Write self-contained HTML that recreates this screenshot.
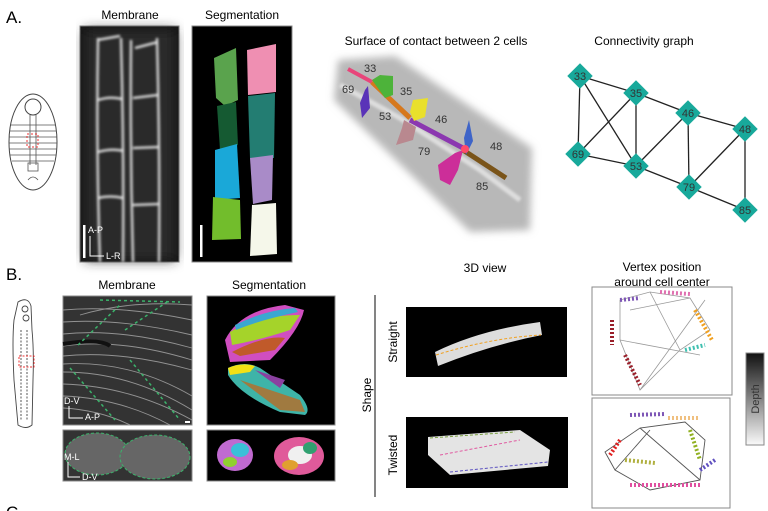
<!DOCTYPE html>
<html><head><meta charset="utf-8"><style>
html,body{margin:0;padding:0;background:#fff;}
svg{display:block;font-family:"Liberation Sans",sans-serif;}
</style></head><body>
<svg width="768" height="511" viewBox="0 0 768 511" xmlns="http://www.w3.org/2000/svg">
<defs>
<linearGradient id="dep" x1="0" y1="0" x2="0" y2="1"><stop offset="0" stop-color="#111"/><stop offset="1" stop-color="#fafafa"/></linearGradient>
<filter id="bl"><feGaussianBlur stdDeviation="6"/></filter>
<filter id="bl4"><feGaussianBlur stdDeviation="4"/></filter>
<filter id="bl1"><feGaussianBlur stdDeviation="1.2"/></filter>
</defs>
<!-- A -->
<text x="6" y="23" font-size="17">A.</text>
<text x="130" y="19" font-size="12" text-anchor="middle">Membrane</text>
<text x="242" y="19" font-size="12" text-anchor="middle">Segmentation</text>
<ellipse cx="33" cy="142" rx="24" ry="48" fill="#fff" stroke="#444"/>
<circle cx="33" cy="107" r="8" fill="none" stroke="#444"/>
<g stroke="#555" stroke-width="0.8" fill="none">
<path d="M11 125 H55 M10 131 H56 M9 137 H57 M9 143 H57 M9 149 H57 M10 155 H56 M12 161 H54"/>
<path d="M30 115 V165 M36 115 V165"/>
<rect x="28" y="163" width="10" height="8"/>
<path d="M28 180 q5 -6 10 0"/>
</g>
<rect x="27" y="134" width="11" height="13" fill="none" stroke="#e33" stroke-dasharray="2,2"/>
<rect x="80" y="26" width="99" height="236" fill="#151515" stroke="#888"/>
<g fill="#2a2a2a" filter="url(#bl)"><rect x="85" y="30" width="90" height="230"/></g>
<g stroke="#e8e8e8" stroke-width="2.2" fill="none" filter="url(#bl1)">
<path d="M98 38 Q96 150 100 262 M121 38 Q124 150 123 262 M131 40 Q130 150 133 262 M157 38 Q160 150 159 262"/>
<path d="M98 100 Q110 96 122 99 M98 152 Q112 148 124 151 M98 198 Q110 195 123 198 M133 98 L158 95 M133 148 L160 147 M133 205 L160 204 M97 40 L120 36 M135 48 L158 42"/>
</g>
<rect x="83" y="225" width="2.5" height="33" fill="#fff"/>
<text x="88" y="233" font-size="9" fill="#fff">A-P</text>
<path d="M90 236 V256 H104" stroke="#fff" fill="none"/>
<text x="106" y="259" font-size="9" fill="#fff">L-R</text>
<rect x="192" y="26" width="100" height="236" fill="#000" stroke="#888"/>
<path d="M214 58 L236 48 L238 100 L225 106 L216 98 Z" fill="#5aa34d"/>
<path d="M217 106 L236 102 L238 145 L220 150 Z" fill="#155a32"/>
<path d="M215 150 L237 144 L240 198 L215 200 Z" fill="#1aa8d8"/>
<path d="M213 197 L240 200 L241 239 L212 240 Z" fill="#72bd2c"/>
<path d="M247 50 L276 44 L276 92 L248 95 Z" fill="#ef8fb2"/>
<path d="M248 96 L275 93 L274 158 L250 158 Z" fill="#237d72"/>
<path d="M250 158 L273 155 L272 200 L253 204 Z" fill="#a98bc8"/>
<path d="M252 205 L276 203 L277 254 L250 256 Z" fill="#f5f7ea"/>
<rect x="200" y="225" width="2.5" height="32" fill="#fff"/>
<!-- surface of contact -->
<text x="436" y="45" font-size="12" text-anchor="middle">Surface of contact between 2 cells</text>
<g filter="url(#bl4)">
<path d="M338 60 L395 56 L532 148 L530 230 L470 232 L334 100 Z" fill="#b8b8b8"/>
</g>
<path d="M340 85 L400 118 L480 170 L520 200" stroke="#dedede" stroke-width="5" fill="none" filter="url(#bl1)"/>
<path d="M348 69 L372 82" stroke="#e8457a" stroke-width="4"/>
<path d="M372 82 L410 118" stroke="#d6781d" stroke-width="5"/>
<path d="M410 120 L463 148" stroke="#8b37b0" stroke-width="5"/>
<path d="M463 150 L506 178" stroke="#7a5419" stroke-width="5"/>
<path d="M372 80 L380 75 L393 76 L393 95 L385 98 Z" fill="#4db33a"/>
<path d="M368 86 L370 108 L362 118 L360 103 L365 90 Z" fill="#5a33b8"/>
<path d="M413 100 L428 98 L425 117 L414 121 L410 112 Z" fill="#e9e02c"/>
<path d="M404 120 L416 127 L413 140 L396 145 L402 128 Z" fill="#b9888f"/>
<path d="M469 120 L473 141 L466 155 L464 138 Z" fill="#3e64c8"/>
<path d="M455 153 L463 150 L458 170 L450 185 L440 180 L438 165 Z" fill="#cc2e99"/>
<circle cx="465" cy="149" r="4" fill="#ff4a6a"/>
<g font-size="11" fill="#333">
<text x="364" y="72">33</text><text x="342" y="93">69</text><text x="400" y="95">35</text>
<text x="379" y="120">53</text><text x="435" y="123">46</text><text x="418" y="155">79</text>
<text x="490" y="150">48</text><text x="476" y="190">85</text>
</g>
<!-- connectivity -->
<text x="644" y="45" font-size="12" text-anchor="middle">Connectivity graph</text>
<g stroke="#222" stroke-width="1.3">
<line x1="580" y1="76" x2="636" y2="93"/><line x1="580" y1="76" x2="578" y2="154"/><line x1="580" y1="76" x2="636" y2="166"/>
<line x1="636" y1="93" x2="578" y2="154"/><line x1="636" y1="93" x2="636" y2="166"/><line x1="636" y1="93" x2="688" y2="113"/>
<line x1="688" y1="113" x2="636" y2="166"/><line x1="688" y1="113" x2="745" y2="129"/><line x1="688" y1="113" x2="689" y2="187"/>
<line x1="578" y1="154" x2="636" y2="166"/><line x1="636" y1="166" x2="689" y2="187"/><line x1="745" y1="129" x2="689" y2="187"/>
<line x1="745" y1="129" x2="745" y2="210"/><line x1="689" y1="187" x2="745" y2="210"/>
</g>
<g fill="#18a99b" font-size="11" text-anchor="middle">
<g transform="translate(580,76)"><rect x="-9" y="-9" width="18" height="18" transform="rotate(45)"/><text y="4" fill="#333">33</text></g>
<g transform="translate(636,93)"><rect x="-9" y="-9" width="18" height="18" transform="rotate(45)"/><text y="4" fill="#333">35</text></g>
<g transform="translate(688,113)"><rect x="-9" y="-9" width="18" height="18" transform="rotate(45)"/><text y="4" fill="#333">46</text></g>
<g transform="translate(745,129)"><rect x="-9" y="-9" width="18" height="18" transform="rotate(45)"/><text y="4" fill="#333">48</text></g>
<g transform="translate(578,154)"><rect x="-9" y="-9" width="18" height="18" transform="rotate(45)"/><text y="4" fill="#333">69</text></g>
<g transform="translate(636,166)"><rect x="-9" y="-9" width="18" height="18" transform="rotate(45)"/><text y="4" fill="#333">53</text></g>
<g transform="translate(689,187)"><rect x="-9" y="-9" width="18" height="18" transform="rotate(45)"/><text y="4" fill="#333">79</text></g>
<g transform="translate(745,210)"><rect x="-9" y="-9" width="18" height="18" transform="rotate(45)"/><text y="4" fill="#333">85</text></g>
</g>
<!-- B -->
<text x="6" y="280" font-size="17">B.</text>
<text x="127" y="289" font-size="12" text-anchor="middle">Membrane</text>
<text x="269" y="289" font-size="12" text-anchor="middle">Segmentation</text>
<g stroke="#444" fill="#fff" stroke-width="0.9">
<path d="M18 302 Q28 296 31 306 L32 330 Q34 350 33 380 L32 425 Q26 430 18 425 L14 380 Q12 340 14 320 Z"/>
<circle cx="25" cy="309" r="3" fill="none"/><circle cx="26" cy="318" r="3" fill="none"/>
<path d="M21 330 V420 M27 330 V420" fill="none" stroke-dasharray="2,1.5"/>
</g>
<rect x="19" y="356" width="15" height="11" fill="none" stroke="#e33" stroke-dasharray="2,1.5"/>
<rect x="63" y="296" width="129" height="129" fill="#333" stroke="#888"/>
<g stroke="#aaa" stroke-width="0.9" fill="none" opacity="0.8">
<path d="M63 310 Q120 305 192 320 M63 322 Q120 318 192 335 M63 334 Q120 328 192 348 M63 346 Q120 338 192 360 M63 356 Q120 350 192 370"/>
<path d="M63 372 Q130 372 192 410 M63 384 Q130 386 192 420 M63 396 Q120 398 170 425 M63 408 Q100 410 130 425 M63 364 Q130 360 192 396 M80 315 Q130 300 192 305"/>
</g>
<path d="M63 344 Q100 338 110 346" stroke="#111" stroke-width="4" fill="none"/>
<g stroke="#3bb36b" stroke-width="1.5" stroke-dasharray="3,3" fill="none">
<path d="M78 345 L120 305 M125 330 L170 300 M70 368 L115 420 M130 360 L180 420 M100 300 L180 302"/>
</g>
<text x="64" y="404" font-size="9" fill="#fff">D-V</text>
<path d="M69 406 V418 H83" stroke="#fff" fill="none"/>
<text x="85" y="420" font-size="9" fill="#fff">A-P</text>
<rect x="185" y="421" width="5" height="2" fill="#fff"/>
<rect x="63" y="430" width="129" height="51" fill="#333" stroke="#888"/>
<ellipse cx="97" cy="454" rx="32" ry="21" fill="#666" stroke="#3bb36b" stroke-dasharray="3,2"/>
<ellipse cx="155" cy="457" rx="35" ry="22" fill="#666" stroke="#3bb36b" stroke-dasharray="3,2"/>
<text x="64" y="460" font-size="9" fill="#fff">M-L</text>
<path d="M68 462 V477 H80" stroke="#fff" fill="none"/>
<text x="82" y="480" font-size="9" fill="#fff">D-V</text>
<rect x="207" y="296" width="128" height="129" fill="#000" stroke="#888"/>
<path d="M225 340 Q240 310 285 305 L304 310 Q300 330 270 360 L230 362 Z" fill="#d04ec0"/>
<path d="M230 332 Q260 315 300 315 L290 330 Q260 340 232 345 Z" fill="#a5d32a"/>
<path d="M235 325 Q265 310 295 308 L298 312 Q260 320 236 330 Z" fill="#3aa7d0"/>
<path d="M232 352 Q265 335 285 338 L275 350 L240 356 Z" fill="#c05a2a"/>
<path d="M228 368 Q245 360 260 368 L300 395 Q312 410 305 415 L280 412 Q240 395 228 375 Z" fill="#3eb4a8"/>
<path d="M228 368 Q242 362 255 366 L250 372 L230 375 Z" fill="#f2e014"/>
<path d="M240 380 L300 400 L305 412 L280 410 Z" fill="#a07a40"/>
<path d="M255 370 L285 380 L280 388 Z" fill="#8a40a0"/>
<rect x="207" y="430" width="128" height="51" fill="#000" stroke="#888"/>
<ellipse cx="235" cy="455" rx="18" ry="16" fill="#c06ad0"/>
<ellipse cx="240" cy="450" rx="9" ry="7" fill="#3ac0d8"/><ellipse cx="230" cy="462" rx="7" ry="5" fill="#90d030"/>
<ellipse cx="299" cy="456" rx="25" ry="19" fill="#e05a9a"/>
<ellipse cx="300" cy="455" rx="12" ry="9" fill="#f0f0f0"/><ellipse cx="290" cy="465" rx="8" ry="5" fill="#e0a030"/><ellipse cx="310" cy="448" rx="7" ry="6" fill="#30a070"/>
<text transform="translate(371,395) rotate(-90)" font-size="12" text-anchor="middle">Shape</text>
<line x1="375" y1="295" x2="375" y2="497" stroke="#333" stroke-width="1.2"/>
<text transform="translate(397,342) rotate(-90)" font-size="12" text-anchor="middle">Straight</text>
<text transform="translate(397,455) rotate(-90)" font-size="12" text-anchor="middle">Twisted</text>
<text x="485" y="272" font-size="12" text-anchor="middle">3D view</text>
<rect x="406" y="307" width="161" height="70" fill="#000"/>
<path d="M435 352 Q480 330 540 322 L542 335 Q490 345 438 366 Z" fill="#ddd"/>
<path d="M436 355 Q490 338 541 335" stroke="#f0a020" stroke-dasharray="3,2" fill="none"/>
<rect x="406" y="417" width="162" height="71" fill="#000"/>
<path d="M428 437 L520 430 L550 450 L548 466 L450 475 L428 455 Z" fill="#e4e4e4"/>
<path d="M440 455 L520 440" stroke="#e05aa0" stroke-dasharray="3,2"/>
<path d="M450 472 L548 462" stroke="#5a50c0" stroke-dasharray="3,2"/>
<path d="M430 438 L515 432" stroke="#7aa040" stroke-dasharray="3,2"/>
<text x="662" y="271" font-size="12" text-anchor="middle">Vertex position</text>
<text x="662" y="286" font-size="12" text-anchor="middle">around cell center</text>
<rect x="592" y="287" width="140" height="108" fill="#fff" stroke="#888"/>
<g stroke="#999" stroke-width="0.8" fill="none">
<path d="M620 300 L650 292 L690 298 L710 330 L680 350 L640 390 L620 340 Z"/><path d="M650 292 L680 350 M630 310 L690 298 M620 340 L700 355 M640 390 L705 300"/>
</g>
<g stroke-width="4" stroke-dasharray="2,2" fill="none">
<path d="M620 300 L640 298" stroke="#7d55b5"/><path d="M612 320 L612 345" stroke="#9a1f2a"/><path d="M625 355 L640 385" stroke="#9a1f2a"/>
<path d="M695 310 L712 340" stroke="#f0a020"/><path d="M685 350 L705 345" stroke="#40c0b0"/><path d="M660 292 L690 294" stroke="#e070b0"/>
</g>
<rect x="592" y="398" width="138" height="110" fill="#fff" stroke="#888"/>
<g stroke="#555" stroke-width="0.9" fill="none">
<path d="M605 452 L640 428 L685 422 L705 440 L700 480 L650 490 L615 470 Z"/><path d="M615 470 L650 430 M640 428 L700 480"/>
</g>
<g stroke-width="4" stroke-dasharray="2,2" fill="none">
<path d="M630 415 L665 414" stroke="#7d55b5"/><path d="M668 418 L700 418" stroke="#f0c080"/><path d="M610 455 L620 440" stroke="#e02020"/>
<path d="M625 460 L655 463" stroke="#b0b040"/><path d="M690 430 L700 460" stroke="#90b020"/><path d="M630 485 L700 485" stroke="#e050a0"/><path d="M700 470 L715 460" stroke="#6050c0"/>
</g>
<rect x="746" y="353" width="18" height="92" fill="url(#dep)" stroke="#888"/>
<text transform="translate(759,399) rotate(-90)" font-size="11" text-anchor="middle" fill="#333">Depth</text>
<text x="6" y="518" font-size="17">C.</text>
</svg>
</body></html>
